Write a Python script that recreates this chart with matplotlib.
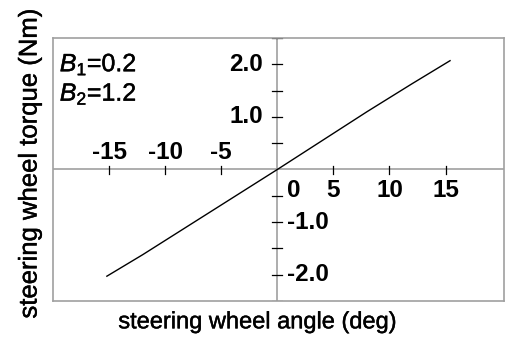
import matplotlib.pyplot as plt
import matplotlib.patheffects as pe
import numpy as np

plt.rcParams['font.family'] = 'Liberation Sans'
plt.rcParams['mathtext.fontset'] = 'custom'
plt.rcParams['mathtext.rm'] = 'Liberation Sans'
plt.rcParams['mathtext.it'] = 'Liberation Sans:italic'

# steering wheel angle (deg) vs torque (Nm)
angle = [-15.2, -12, -8, -4, 0, 4, 8, 12, 15.4]
torque = [-2.03, -1.62, -1.08, -0.54, 0.0, 0.55, 1.10, 1.63, 2.07]

xtick_vals = [-15, -10, -5, 0, 5, 10, 15]
ytick_vals = [-2.0, -1.0, 1.0, 2.0]
ytick_minor = [-2.5, -2.0, -1.5, -1.0, -0.5, 0.5, 1.0, 1.5, 2.0, 2.5]

fig = plt.figure(figsize=(5.1, 3.4), dpi=100)
ax = fig.add_axes([0.104, 0.115, 0.884, 0.773])

grey = '#a0a0a0'
ax.plot(angle, torque, color='black', lw=1.0)

ax.set_xlim(-20, 20.2)
ax.set_ylim(-2.5, 2.5)

# frame around the plot
for s in ax.spines.values():
    s.set_color(grey)
    s.set_linewidth(1.2)
ax.set_xticks([])
ax.set_yticks([])

# axes through the origin
ax.axhline(0, color=grey, lw=1.2, zorder=1)
ax.axvline(0, color=grey, lw=1.2, zorder=1)

# tick marks crossing the zero axes
for x in xtick_vals:
    if x != 0:
        ax.plot([x, x], [-0.09, 0.06], color='black', lw=0.9)
for y in ytick_minor:
    ax.plot([-0.45, 0.45], [y, y], color='black', lw=0.9)

# tick labels: negatives above / right, positives below / left
tfs = 17.5
for x in xtick_vals:
    if x < 0:
        ax.text(x, 0.33, '-%d' % abs(x), ha='center', va='center',
                fontsize=tfs, fontweight='bold')
    elif x == 0:
        ax.text(0.9, -0.40, '0', ha='left', va='center',
                fontsize=tfs, fontweight='bold')
    else:
        ax.text(x, -0.40, '%d' % x, ha='center', va='center',
                fontsize=tfs, fontweight='bold')
for y in ytick_vals:
    if y > 0:
        ax.text(-1.3, y, '%.1f' % y, ha='right', va='center',
                fontsize=tfs, fontweight='bold')
    else:
        ax.text(0.9, y, '-%.1f' % abs(y), ha='left', va='center',
                fontsize=tfs, fontweight='bold')

heavy = [pe.withStroke(linewidth=0.3, foreground='black')]
ax.text(-19.4, 2.0, r'$B_1$=0.2', ha='left', va='center', fontsize=18,
        path_effects=heavy)
ax.text(-19.4, 1.44, r'$B_2$=1.2', ha='left', va='center', fontsize=18,
        path_effects=heavy)

fig.text(0.506, 0.052, 'steering wheel angle (deg)', ha='center', va='center',
         fontsize=17, path_effects=heavy)
fig.text(0.058, 0.52, 'steering wheel torque (Nm)', ha='center', va='center',
         rotation=90, fontsize=18.5, path_effects=heavy)

fig.savefig('out.png', dpi=100)
